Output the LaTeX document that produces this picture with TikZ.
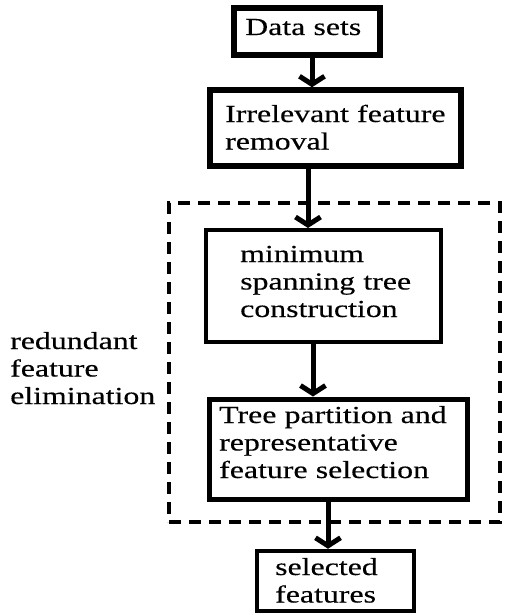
\documentclass[tikz,border=0pt]{standalone}
\usepackage{fontspec}
\setmainfont{Liberation Serif}[FakeStretch=1.3,FakeBold=0.3]
\usetikzlibrary{arrows.meta}
\begin{document}
\begin{tikzpicture}[x=1pt,y=-1pt,
  box/.style={draw=black, rectangle, inner sep=0pt},
  txt/.style={anchor=base west, inner sep=0pt, align=left, text width=260pt,
              font=\fontsize{24.5}{27.5}\selectfont},
  arr/.style={line width=5pt, -{Straight Barb[length=8pt,width=25pt]}},
  grpbox/.style={draw=black, rectangle, dash pattern=on 12pt off 8pt, line width=4.5pt, inner sep=0pt}]
\useasboundingbox (0,0) rectangle (506,615);
% group
\node[grpbox, minimum width=331pt, minimum height=319pt] (grp) at (334.5,362.5) {};
% boxes
\node[box, line width=5.5pt, minimum width=146pt, minimum height=47pt] (ds) at (307,31.5) {};
\node[box, line width=5.5pt, minimum width=251pt, minimum height=76pt] (irr) at (335.5,128) {};
\node[box, line width=4pt, minimum width=235pt, minimum height=112pt] (mst) at (323.5,286) {};
\node[box, line width=5pt, minimum width=258pt, minimum height=100pt] (tp) at (338,449) {};
\node[box, line width=4.5pt, minimum width=157pt, minimum height=60pt] (sf) at (335.5,581) {};
% texts
\node[txt] (dsT) at (245,35) {Data sets};
\node[txt] (irrT) at (225,122) {Irrelevant feature\\removal};
\node[txt] (mstT) at (240,262) {minimum\\spanning tree\\construction};
\node[txt] (tpT) at (219,423) {Tree partition and\\representative\\feature selection};
\node[txt] (sfT) at (275,575) {selected\\features};
\node[txt, text width=160pt] (lab) at (10,349) {redundant\\feature\\elimination};
% arrows
\draw[arr] (ds.south -| 312,0) -- (irr.north -| 312,0);
\draw[arr] (irr.south -| 308,0) -- (mst.north -| 308,0);
\draw[arr] (mst.south -| 313,0) -- (tp.north -| 313,0);
\draw[arr] (tp.south -| 328,0) -- (sf.north -| 328,0);
\end{tikzpicture}
\end{document}
